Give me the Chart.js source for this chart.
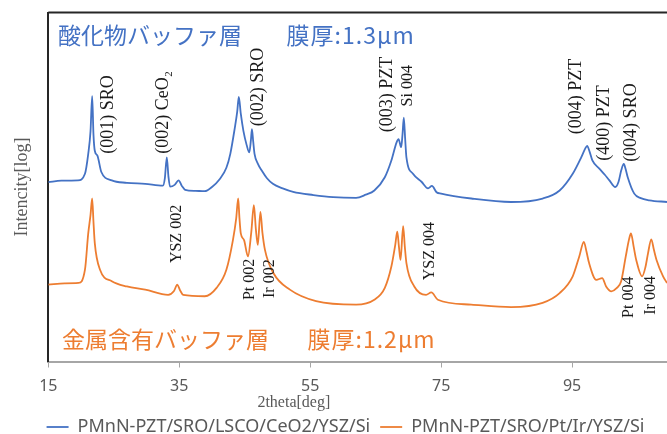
<html lang="ja">
<head>
    <meta charset="UTF-8">
    <title>XRD</title>
    <script src="https://cdn.jsdelivr.net/npm/chart.js@4.4.0/dist/chart.umd.min.js"></script>
    <style>
        body { margin: 0; background: #fff; }
    </style>
</head>
<body>
    <canvas id="chart" width="667" height="434"></canvas>
    <script>
// series: 2theta [deg] and log intensity (arbitrary units 0-100)
const seriesNames = ['PMnN-PZT/SRO/LSCO/CeO2/YSZ/Si', 'PMnN-PZT/SRO/Pt/Ir/YSZ/Si'];
const xTicks = [15, 35, 55, 75, 95];

const oxideTheta = [15.0, 17.0, 19.5, 20.6, 21.1, 21.45, 21.7, 21.9, 22.1, 22.5, 23.1, 24.7, 27.0, 29.8, 32.5, 32.8, 33.1, 33.35, 33.6, 34.3, 34.9, 35.4, 35.9, 37.5, 38.9,
    40.0, 41.2, 42.2, 42.8, 43.5, 43.85, 44.1, 44.4, 44.8, 45.3, 45.7, 45.95, 46.1, 46.3, 46.5, 47.0, 47.6, 48.4, 49.3, 50.8, 52.4, 55.5, 58.5, 62.0, 63.5,
    64.8, 66.4, 67.4, 68.2, 68.5, 68.9, 69.1, 69.3, 69.5, 69.7, 70.7, 72.0, 73.0, 73.6, 74.3, 75.0, 79.6, 85.7, 90.5, 93.1,
    95.1, 96.4, 97.0, 97.3, 97.7, 98.1, 99.2, 100.0, 100.7, 101.6, 102.1, 102.5, 102.9, 103.2, 103.5, 104.5, 105.5, 106.8, 109.5];
const oxideInt = [51.4, 51.8, 51.9, 53.8, 59.5, 66, 76.0, 65, 60.4, 59.0, 54.3, 51.9, 51.2, 50.9, 50.4, 52.5, 58.5, 53, 50.1, 50.6, 51.9, 50.3, 49.2, 48.9, 48.8,
    50.0, 52.3, 55.5, 59.5, 67.1, 71.5, 75.8, 71, 66.1, 62, 59.9, 63.5, 66.6, 63, 59.5, 56.7, 54.7, 52.5, 50.9, 49.6, 48.6, 47.7, 47.1, 46.9, 47.8,
    49.0, 52.8, 57.6, 62.8, 63.7, 61.4, 65, 69.9, 64, 58.5, 53.8, 51.5, 49.6, 50.3, 48.5, 48.1, 46.7, 45.7, 46.7, 49.0,
    53.8, 58.5, 61, 61.8, 60, 57.6, 55.2, 53.5, 51.9, 50.0, 51.5, 54.7, 56.6, 55, 52.8, 48.1, 46.8, 46.2, 45.7];

const metalTheta = [15.0, 17.5, 19.6, 20.6, 21.1, 21.45, 21.7, 21.9, 22.1, 22.9, 24.7, 27.0, 29.8, 33.3, 34.2, 34.7, 35.1, 35.6, 38.9,
    40.7, 42.2, 43.2, 43.7, 44.0, 44.2, 44.4, 44.9, 45.5, 46.0, 46.4, 46.7, 47.0, 47.4, 47.7, 48.1, 49.4, 51.9, 55.9, 62.0,
    64.8, 66.4, 67.4, 68.0, 68.3, 68.55, 68.8, 69.2, 69.45, 69.7, 70.9, 72.7, 73.5, 74.5, 79.6, 85.7, 90.5, 93.1,
    95.1, 96.1, 96.8, 97.2, 97.6, 98.7, 99.6, 100.2, 101.0, 101.8, 102.5, 103.2, 103.7, 104.0, 104.4, 104.8, 105.7, 106.2, 106.6, 107.1, 107.5, 107.9, 108.9, 109.5];
const metalInt = [22.0, 22.4, 22.5, 26.3, 36.7, 42, 46.7, 40, 33.9, 26.3, 23.0, 21.5, 20.6, 19.1, 20.2, 22.0, 20.5, 19.1, 18.7,
    21.1, 26.3, 34.8, 41, 46.7, 41, 36.7, 34.8, 30.1, 37, 44.8, 38, 33.4, 42.9, 37, 31.9, 25.3, 20.6, 17.3, 16.3,
    17.7, 21.1, 27.2, 33.5, 37.2, 33, 29.1, 38.8, 33, 28.2, 21.5, 19.1, 19.8, 17.7, 16.3, 15.6, 16.8, 19.6,
    24.4, 30.1, 34.3, 31.5, 28.2, 23.4, 23.9, 21.5, 20.1, 21.0, 23.0, 30.1, 35, 36.7, 33, 29.1, 24.4, 27, 31.0, 35.0, 32, 29.1, 24.4, 22.5];

// peak labels: text, 2theta of the label, intensity where the (rotated) text starts
const peakText = ['(001) SRO', '(002) CeO\u2082', '(002) SRO', '(003) PZT', 'Si 004', '(004) PZT', '(400) PZT', '(004) SRO',
    'YSZ 002', 'Pt 002', 'Ir 002', 'YSZ 004', 'Pt 004', 'Ir 004'];
const peakAt = [24.1, 32.5, 47.0, 66.7, 69.9, 95.7, 99.9, 104.0, 34.6, 45.8, 48.9, 73.2, 103.7, 107.1];
const peakBase = [59.5, 59.5, 67.4, 65.7, 73.1, 65.1, 57.5, 57.2, 28.2, 17.6, 18.2, 23.3, 12.5, 13.4];
const peakSmall = [false, false, false, false, true, false, false, false, true, true, true, true, true, true];

// layer captions
const captionText = ['酸化物バッファ層', '膜厚:1.3μm', '金属含有バッファ層', '膜厚:1.2μm'];
const captionAt = [16.5, 51.4, 17.1, 54.6];
const captionLevel = [93.6, 93.6, 6.5, 6.5];

const BLUE = '#4472C4';
const ORANGE = '#ED7D31';
const GREY = '#595959';

const toPoints = (xs, ys) => xs.map((x, i) => ({x: x, y: ys[i]}));

const extras = {
    id: 'extras',
    afterLayout(chart) {
        // legend sits a bit lower and further right in the original
        chart.legend.top += 12;
        chart.legend.bottom += 12;
        chart.legend.left += 12;
        chart.legend.right += 12;
    },
    afterDatasetsDraw(chart) {
        const {ctx, chartArea, scales: {x, y}} = chart;
        ctx.save();
        // top frame line
        ctx.strokeStyle = '#262626';
        ctx.lineWidth = 2;
        ctx.beginPath();
        ctx.moveTo(chartArea.left, chartArea.top);
        ctx.lineTo(chartArea.right, chartArea.top);
        ctx.stroke();

        // peak labels
        ctx.fillStyle = '#1a1a1a';
        ctx.textAlign = 'left';
        ctx.textBaseline = 'middle';
        peakText.forEach((t, i) => {
            ctx.save();
            ctx.translate(x.getPixelForValue(peakAt[i]), y.getPixelForValue(peakBase[i]));
            ctx.rotate(-Math.PI / 2);
            ctx.font = (peakSmall[i] ? '16px' : '18px') + ' "Liberation Serif", "DejaVu Serif", serif';
            ctx.fillText(t, 0, 0);
            ctx.restore();
        });

        // captions
        ctx.font = '23px "Noto Sans CJK JP", "Noto Sans", sans-serif';
        captionText.forEach((t, i) => {
            ctx.fillStyle = i < 2 ? BLUE : ORANGE;
            ctx.letterSpacing = (i % 2 === 1) ? '1px' : '0px';
            ctx.fillText(t, x.getPixelForValue(captionAt[i]), y.getPixelForValue(captionLevel[i]));
        });
        ctx.letterSpacing = '0px';

        // x axis title (off-centre in the original)
        ctx.fillStyle = GREY;
        ctx.textAlign = 'center';
        ctx.font = '16px "Liberation Serif", serif';
        ctx.fillText('2theta[deg]', x.getPixelForValue(52.5), chartArea.bottom + 41);
        ctx.restore();
    }
};

const ctx = document.getElementById('chart').getContext('2d');
const myChart = new Chart(ctx, {
    type: 'line',
    data: {
        datasets: [{
            label: seriesNames[0],
            data: toPoints(oxideTheta, oxideInt),
            borderColor: BLUE,
            backgroundColor: BLUE,
            borderWidth: 1.8,
            pointRadius: 0,
            cubicInterpolationMode: 'monotone',
            fill: false
        }, {
            label: seriesNames[1],
            data: toPoints(metalTheta, metalInt),
            borderColor: ORANGE,
            backgroundColor: ORANGE,
            borderWidth: 1.8,
            pointRadius: 0,
            cubicInterpolationMode: 'monotone',
            fill: false
        }]
    },
    options: {
        responsive: false,
        animation: false,
        layout: { padding: { top: 12.5, right: 0, left: 0, bottom: 0 } },
        scales: {
            x: {
                type: 'linear',
                min: 15,
                max: 109.5,
                afterBuildTicks: s => { s.ticks = xTicks.map(v => ({value: v})); },
                ticks: {
                    maxRotation: 0,
                    color: GREY,
                    padding: 9,
                    font: { family: 'Noto Sans', size: 16 }
                },
                grid: { drawOnChartArea: false, tickLength: 6, color: '#a6a6a6' },
                border: { color: '#a6a6a6', width: 2 },
                afterFit: s => { s.height = 34.5; }
            },
            y: {
                min: 0,
                max: 100,
                ticks: { display: false },
                grid: { display: false },
                border: { color: '#262626', width: 2 },
                title: {
                    display: true,
                    text: 'Intencity[log]',
                    color: GREY,
                    padding: { top: 11 },
                    font: { family: 'Liberation Serif', size: 18 }
                },
                afterFit: s => { s.width = 48.3; }
            }
        },
        plugins: {
            legend: {
                position: 'bottom',
                labels: {
                    usePointStyle: true,
                    pointStyle: 'line',
                    pointStyleWidth: 22,
                    color: GREY,
                    padding: 10,
                    font: { family: 'Noto Sans', size: 18 }
                }
            },
            tooltip: { enabled: false }
        }
    },
    plugins: [extras]
});
    </script>
</body>
</html>
